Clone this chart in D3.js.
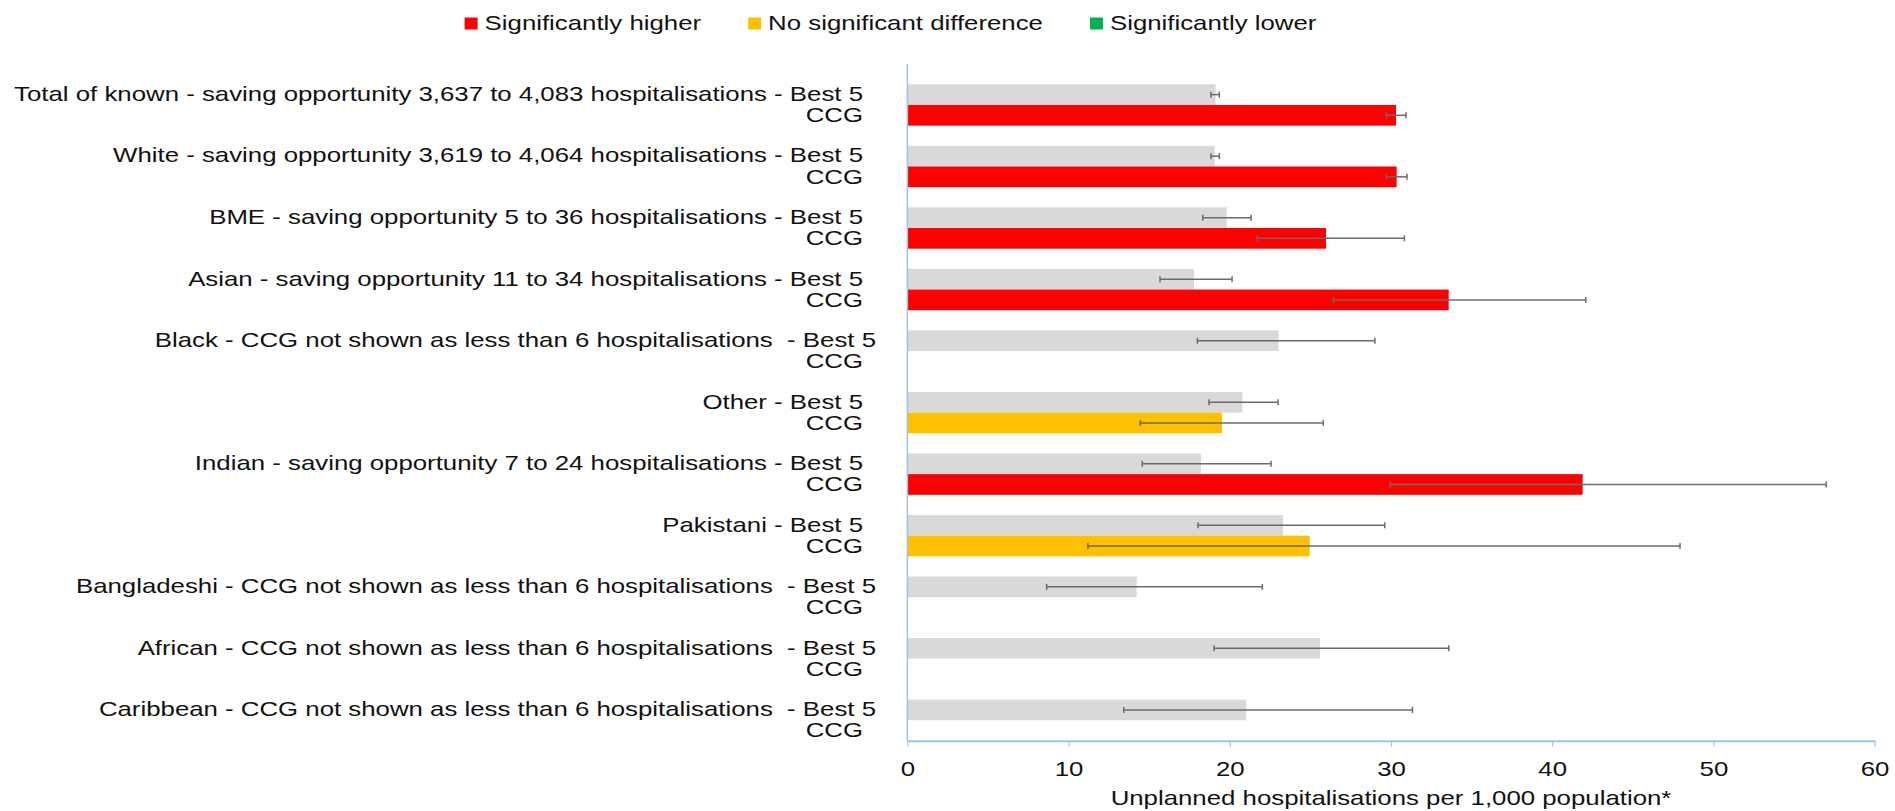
<!DOCTYPE html>
<html>
<head>
<meta charset="utf-8">
<script src="https://cdn.jsdelivr.net/npm/d3@7"></script>
<style>
  html, body { margin: 0; padding: 0; background: #fff; }
  svg { display: block; }
  text { font-family: "Liberation Sans", Arial, sans-serif; fill: #111; white-space: pre; }
</style>
</head>
<body>
<svg id="chart" width="1895" height="811"></svg>
<script>
// ---------- data ----------
const categories = [
  "Total of known - saving opportunity 3,637 to 4,083 hospitalisations - Best 5",
  "White - saving opportunity 3,619 to 4,064 hospitalisations - Best 5",
  "BME - saving opportunity 5 to 36 hospitalisations - Best 5",
  "Asian - saving opportunity 11 to 34 hospitalisations - Best 5",
  "Black - CCG not shown as less than 6 hospitalisations  - Best 5",
  "Other - Best 5",
  "Indian - saving opportunity 7 to 24 hospitalisations - Best 5",
  "Pakistani - Best 5",
  "Bangladeshi - CCG not shown as less than 6 hospitalisations  - Best 5",
  "African - CCG not shown as less than 6 hospitalisations  - Best 5",
  "Caribbean - CCG not shown as less than 6 hospitalisations  - Best 5"
];
const secondLine = "CCG";

const best5     = [19.12, 19.06, 19.81, 17.78, 23.03, 20.78, 18.21, 23.30, 14.22, 25.60, 21.02];
const best5Low  = [18.83, 18.83, 18.32, 15.67, 17.99, 18.71, 14.57, 18.03,  8.64, 19.02, 13.42];
const best5High = [19.35, 19.35, 21.32, 20.14, 29.00, 22.99, 22.56, 29.61, 22.02, 33.59, 31.33];

const ccg       = [30.31, 30.35, 25.97, 33.58, null, 19.52, 41.89, 24.96, null, null, null];
const ccgLow    = [29.71, 29.71, 21.71, 26.42, null, 14.45, 29.94, 11.20, null, null, null];
const ccgHigh   = [30.93, 30.99, 30.83, 42.08, null, 25.80, 57.00, 47.93, null, null, null];
const ccgSignificance = ["higher", "higher", "higher", "higher", null, "none", "higher", "none", null, null, null];

const legendKeys   = ["higher", "none", "lower"];
const legendLabels = ["Significantly higher", "No significant difference", "Significantly lower"];
const xTicks = [0, 10, 20, 30, 40, 50, 60];
const xTitle = "Unplanned hospitalisations per 1,000 population*";

// ---------- styles ----------
const colors = { higher: "#ff0000", none: "#ffc000", lower: "#00b050", best: "#d9d9d9" };
const axisColor = "#9dc3e6";
const errColor = "#6b6b6b";
const fontSize = 20;
const stretch = 1.29;

// ---------- layout ----------
const svg = d3.select("#chart");
const plotLeft = 907.4, plotRight = 1874.6, plotTop = 64, plotBottom = 740.7;
const labelRight = 863;

const x = d3.scaleLinear().domain([0, 60]).range([plotLeft, plotRight]);
const y = d3.scaleBand().domain(d3.range(categories.length))
  .range([plotTop + 10.2, plotBottom + 10.3]).padding(0);
const barH = y.bandwidth() * 0.336;
const mid = i => y(i) + y.bandwidth() / 2;

function stretchedText(sel, tx, ty) {
  return sel.attr("transform", `translate(${tx},${ty}) scale(${stretch},1)`)
            .attr("font-size", fontSize);
}

// ---------- bars ----------
const rows = d3.range(categories.length);

svg.append("g").selectAll("rect").data(rows).join("rect")
  .attr("x", x(0))
  .attr("y", i => mid(i) - barH)
  .attr("width", i => x(best5[i]) - x(0))
  .attr("height", barH)
  .attr("fill", colors.best);

const ccgRows = rows.filter(i => ccg[i] != null);
svg.append("g").selectAll("rect").data(ccgRows).join("rect")
  .attr("x", x(0))
  .attr("y", i => mid(i))
  .attr("width", i => x(ccg[i]) - x(0))
  .attr("height", barH)
  .attr("fill", i => colors[ccgSignificance[i]]);

// ---------- error bars ----------
const errs = [];
rows.forEach(i => {
  errs.push({ lo: best5Low[i], hi: best5High[i], cy: mid(i) - barH / 2 });
  if (ccg[i] != null) errs.push({ lo: ccgLow[i], hi: ccgHigh[i], cy: mid(i) + barH / 2 });
});
const eg = svg.append("g").attr("stroke", errColor).attr("stroke-width", 1.5).attr("fill", "none");
eg.selectAll("line.h").data(errs).join("line").attr("class", "h")
  .attr("x1", d => x(d.lo)).attr("x2", d => x(d.hi))
  .attr("y1", d => d.cy).attr("y2", d => d.cy);
eg.selectAll("line.l").data(errs).join("line").attr("class", "l")
  .attr("x1", d => x(d.lo)).attr("x2", d => x(d.lo))
  .attr("y1", d => d.cy - 3).attr("y2", d => d.cy + 3);
eg.selectAll("line.r").data(errs).join("line").attr("class", "r")
  .attr("x1", d => x(d.hi)).attr("x2", d => x(d.hi))
  .attr("y1", d => d.cy - 3).attr("y2", d => d.cy + 3);

// ---------- axes ----------
svg.append("line")
  .attr("x1", plotLeft).attr("x2", plotLeft).attr("y1", plotTop).attr("y2", plotBottom)
  .attr("stroke", axisColor).attr("stroke-width", 1.5);

const xAxis = svg.append("g").attr("transform", `translate(0,${plotBottom})`)
  .call(d3.axisBottom(x).tickValues(xTicks).tickSize(6).tickSizeOuter(0).tickFormat(d3.format("d")));
xAxis.select(".domain").attr("stroke", axisColor).attr("stroke-width", 2);
xAxis.selectAll(".tick line").attr("stroke", axisColor).attr("stroke-width", 1.2);
xAxis.selectAll(".tick text").each(function() {
  const t = d3.select(this);
  t.attr("y", null).attr("dy", null).attr("text-anchor", "middle")
   .style("font-family", '"Liberation Sans", Arial, sans-serif').attr("fill", "#111");
  stretchedText(t, 0, 35.5);
});

stretchedText(svg.append("text").attr("text-anchor", "middle").text(xTitle),
  (plotLeft + plotRight) / 2, 805);

// ---------- category labels ----------
const lg = svg.append("g");
rows.forEach(i => {
  const shift = ccg[i] == null ? 13 : 0;
  stretchedText(lg.append("text").attr("text-anchor", "end").text(categories[i]),
    labelRight + shift, mid(i) - barH / 2 + 6.3);
  stretchedText(lg.append("text").attr("text-anchor", "end").text(secondLine),
    labelRight, mid(i) + barH / 2 + 6.8);
});

// ---------- legend ----------
const leg = svg.append("g");
let lx = 464.6;
legendKeys.forEach((k, j) => {
  leg.append("rect").attr("x", lx).attr("y", 17.5).attr("width", 13).attr("height", 12)
    .attr("fill", colors[k]);
  const t = stretchedText(leg.append("text").text(legendLabels[j]), lx + 20, 30);
  const w = t.node().getComputedTextLength() * stretch;
  lx += 20 + w + 47;
});
</script>
</body>
</html>
